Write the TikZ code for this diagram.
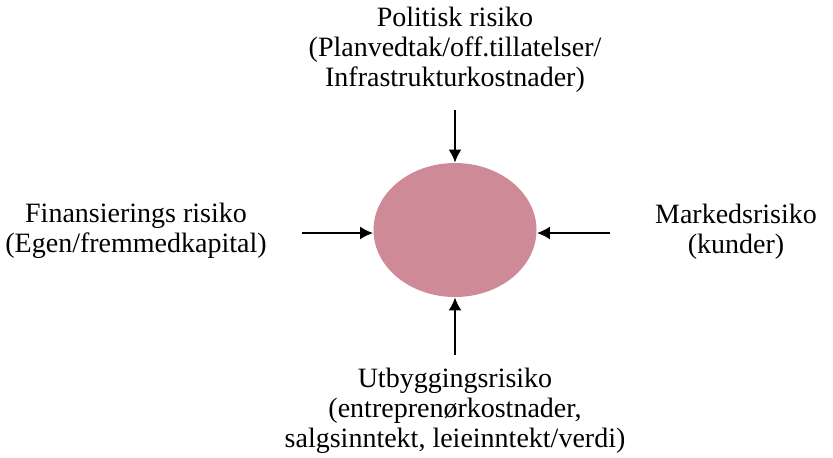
\documentclass[tikz,border=0pt]{standalone}
\usepackage{fontspec}
\setmainfont{Liberation Serif}
\usetikzlibrary{shapes.geometric, arrows.meta}
\definecolor{risk}{RGB}{206,139,151}

\begin{document}
\begin{tikzpicture}[x=0.5pt, y=-0.5pt, font=\fontsize{14}{15}\selectfont,
		txt/.style={align=center, inner sep=0pt},
		pil/.style={-{Latex[length=6.5pt, width=6.5pt]}, line width=1pt}]
			\useasboundingbox (0,0) rectangle (833,457);
			
			% Centre
			\node[ellipse, fill=risk, minimum width=81.5pt, minimum height=67pt, inner sep=0pt] (prosjekt) at (455,230) {};
			
			% Risk texts
			\node[txt] (politisk) at (455,50) {Politisk risiko\\(Planvedtak/off.tillatelser/\\Infrastrukturkostnader)};
			\node[txt] (finans) at (136,231) {Finansierings risiko\\(Egen/fremmedkapital)};
			\node[txt] (marked) at (736,232) {Markedsrisiko\\(kunder)};
			\node[txt] (utbygging) at (455,411) {Utbyggingsrisiko\\(entreprenørkostnader,\\salgsinntekt, leieinntekt/verdi)};
			
			% Arrow tails
			\coordinate (p0) at (455,110);
			\coordinate (f0) at (302,233);
			\coordinate (m0) at (610,233);
			\coordinate (u0) at (455,355);
			
			% Arrows
			\draw[pil] (p0) -- (prosjekt);
			\draw[pil] (f0) -- (f0 -| prosjekt.west);
			\draw[pil] (m0) -- (m0 -| prosjekt.east);
			\draw[pil] (u0) -- (prosjekt);
			
		\end{tikzpicture}
\end{document}
